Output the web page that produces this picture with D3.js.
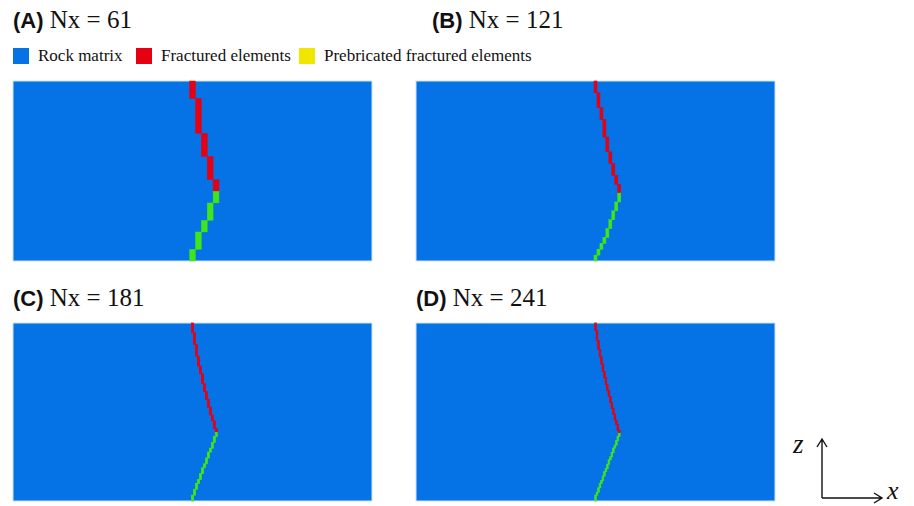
<!DOCTYPE html>
<html>
<head>
<meta charset="utf-8">
<script src="https://cdn.jsdelivr.net/npm/d3@7"></script>
<style>
  html, body { margin: 0; padding: 0; background: #fff; }
  svg { display: block; }
</style>
</head>
<body>
<svg id="chart" width="914" height="506"></svg>
<script>
// ---- data ----
const panelLabels = ["(A)", "(B)", "(C)", "(D)"];
const nxValues = [61, 121, 181, 241];
const nzValues = [31, 61, 91, 121];
const legendLabels = ["Rock matrix", "Fractured elements", "Prebricated fractured elements"];

// runs of fractured cells: [column, firstRow, lastRow] (rows counted from top)
const fracturedA = [[30,0,2],[31,3,8],[32,9,12],[33,13,16],[34,17,18]];
const prebricatedA = [[34,19,20],[33,21,23],[32,24,25],[31,26,28],[30,29,30]];

const fracturedB = [[60,0,3],[61,4,8],[62,9,12],[63,13,18],[64,19,23],[65,24,27],[66,28,31],[67,32,34],[68,35,37]];
const prebricatedB = [[68,38,40],[67,41,43],[66,44,46],[65,47,49],[64,50,52],[63,53,54],[62,55,56],[61,57,58],[60,59,60]];

const fracturedC = [[90,0,4],[91,5,10],[92,11,16],[93,17,21],[94,22,25],[95,26,30],[96,31,34],[97,35,38],[98,39,42],[99,43,46],[100,47,49],[101,50,53],[102,54,55]];
const prebricatedC = [[102,56,57],[101,58,60],[100,61,63],[99,64,65],[98,66,68],[97,69,71],[96,72,73],[95,74,76],[94,77,79],[93,80,81],[92,82,84],[91,85,87],[90,88,90]];

const fracturedD = [[120,0,4],[121,5,11],[122,12,17],[123,18,22],[124,23,27],[125,28,32],[126,33,36],[127,37,41],[128,42,45],[129,46,49],[130,50,53],[131,54,57],[132,58,61],[133,62,65],[134,66,68],[135,69,72],[136,73,74]];
const prebricatedD = [[136,75,76],[135,77,79],[134,80,82],[133,83,84],[132,85,87],[131,88,90],[130,91,92],[129,93,95],[128,96,98],[127,99,100],[126,101,103],[125,104,106],[124,107,108],[123,109,111],[122,112,114],[121,115,116],[120,117,120]];

const fracturedRuns = [fracturedA, fracturedB, fracturedC, fracturedD];
const prebricatedRuns = [prebricatedA, prebricatedB, prebricatedC, prebricatedD];

// ---- styles / layout ----
const colors = { matrix: "#0572e6", fractured: "#e60012", prebricated: "#3ee61a", legendPre: "#f0e600" };
const legendColors = [colors.matrix, colors.fractured, colors.legendPre];
const panelBoxes = [
  { x0: 13, x1: 372, y0: 81, y1: 261, tx: 13, ty: 28, edge: 0.4 },
  { x0: 416, x1: 775, y0: 81, y1: 261, tx: 432, ty: 28, edge: 0.6 },
  { x0: 13, x1: 372, y0: 323, y1: 501, tx: 13, ty: 306, edge: 0.8 },
  { x0: 416, x1: 775, y0: 323, y1: 501, tx: 416, ty: 306, edge: 0.9 }
];

const svg = d3.select("#chart");

panelBoxes.forEach((b, i) => {
  const g = svg.append("g");
  const xs = d3.scaleLinear().domain([0, nxValues[i]]).range([b.x0, b.x1]);
  const ys = d3.scaleLinear().domain([0, nzValues[i]]).range([b.y0, b.y1]);

  g.append("rect")
    .attr("x", xs(0)).attr("y", ys(0))
    .attr("width", xs(nxValues[i]) - xs(0)).attr("height", ys(nzValues[i]) - ys(0))
    .attr("fill", colors.matrix)
    .attr("stroke", "#cfe2f7").attr("stroke-width", 1);

  const drawRuns = (runs, color) => {
    g.selectAll(null).data(runs).enter().append("rect")
      .attr("x", d => xs(d[0]))
      .attr("y", d => ys(d[1]))
      .attr("width", d => xs(d[0] + 1) - xs(d[0]))
      .attr("height", d => ys(d[2] + 1) - ys(d[1]))
      .attr("fill", color)
      .attr("stroke", color).attr("stroke-width", b.edge);
  };
  drawRuns(fracturedRuns[i], colors.fractured);
  drawRuns(prebricatedRuns[i], colors.prebricated);

  const t = svg.append("text").attr("x", b.tx).attr("y", b.ty).attr("fill", "#111");
  t.append("tspan").attr("font-family", "Liberation Sans, Arial, sans-serif")
    .attr("font-weight", "bold").attr("font-size", 22).text(panelLabels[i]);
  t.append("tspan").attr("font-family", "Liberation Serif, Times New Roman, serif")
    .attr("font-size", 25).text(" Nx = " + nxValues[i]);
});

// legend
const legendX = [13, 136, 299];
const lg = svg.append("g");
legendLabels.forEach((lab, i) => {
  lg.append("rect").attr("x", legendX[i]).attr("y", 48).attr("width", 16).attr("height", 16)
    .attr("fill", legendColors[i]);
  lg.append("text").attr("x", legendX[i] + 25).attr("y", 61)
    .attr("font-family", "Liberation Serif, Times New Roman, serif").attr("font-size", 17)
    .attr("fill", "#111").text(lab);
});

// axis glyph
const ax = svg.append("g").attr("stroke", "#111").attr("stroke-width", 1.4).attr("fill", "none");
ax.append("path").attr("d", "M822,498 L822,439 M817,447 L822,439 L827,447");
ax.append("path").attr("d", "M822,498 L882,498 M874,493 L882,498 L874,503");
svg.append("text").attr("x", 793).attr("y", 453).attr("font-family", "Liberation Serif, Times New Roman, serif")
  .attr("font-style", "italic").attr("font-size", 27).attr("fill", "#111").text("z");
svg.append("text").attr("x", 887).attr("y", 499).attr("font-family", "Liberation Serif, Times New Roman, serif")
  .attr("font-style", "italic").attr("font-size", 26).attr("fill", "#111").text("x");
</script>
</body>
</html>
